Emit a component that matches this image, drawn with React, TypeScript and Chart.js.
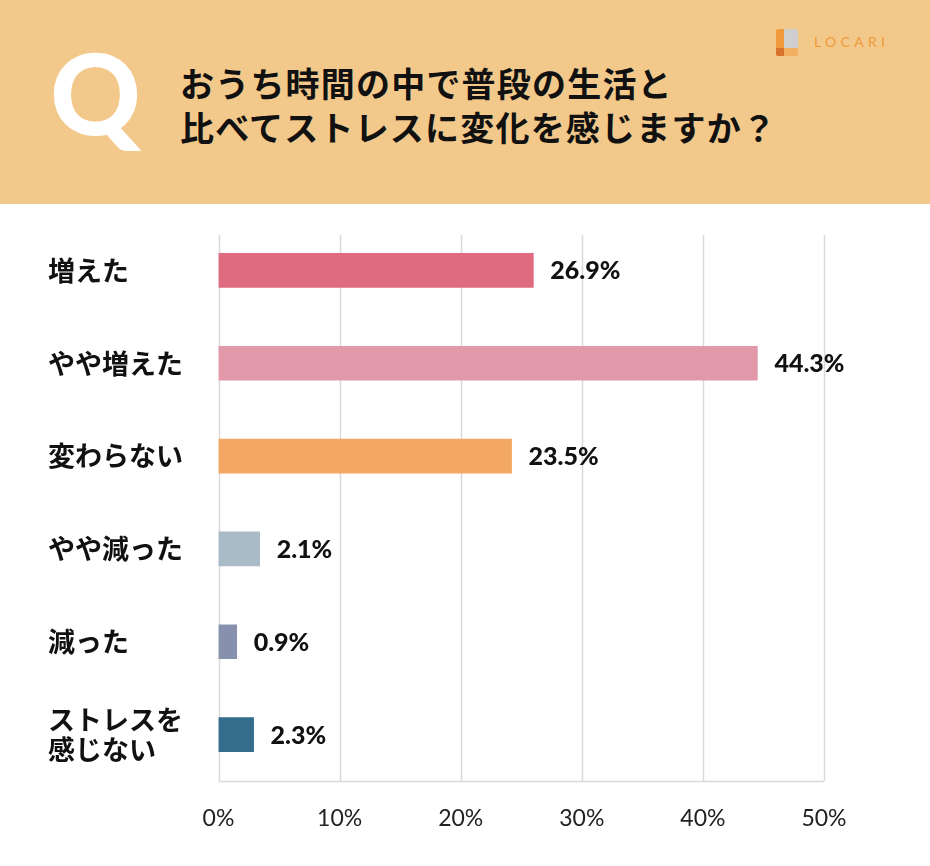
import React, { useEffect, useRef } from "react";
import { Chart, registerables } from "chart.js";
Chart.register(...registerables);

const titleLines = ["おうち時間の中で普段の生活と", "比べてストレスに変化を感じますか？"];
const categories: (string | string[])[] = [
  "増えた",
  "やや増えた",
  "変わらない",
  "やや減った",
  "減った",
  ["ストレスを", "感じない"],
];
// bar lengths as drawn in the picture (percent axis)
const barValues = [26.0, 44.5, 24.2, 3.4, 1.5, 2.9];
// value labels printed next to the bars
const valueLabels = ["26.9%", "44.3%", "23.5%", "2.1%", "0.9%", "2.3%"];
const barColors = ["#DE6B7F", "#E199AA", "#F2A862", "#AABBC8", "#8791AE", "#346D8C"];
const xMin = 0;
const xMax = 50;
const xStep = 10;

const JP = '"Noto Sans CJK JP", "Noto Sans", sans-serif';
const NUM = 'Lato, "Noto Sans", sans-serif';

export default function App() {
  const ref = useRef<HTMLCanvasElement | null>(null);

  useEffect(() => {
    document.body.style.margin = "0";
    const canvas = ref.current;
    if (!canvas) return;

    const gridPlugin = {
      id: "customGrid",
      beforeDatasetsDraw(chart: any) {
        const { ctx, chartArea } = chart;
        const x = chart.scales.x;
        ctx.save();
        ctx.strokeStyle = "#D9D9D9";
        ctx.lineWidth = 1.5;
        x.ticks.forEach((t: any) => {
          const px = Math.round(x.getPixelForValue(t.value)) + 0.5;
          ctx.beginPath();
          ctx.moveTo(px, chartArea.top + 11);
          ctx.lineTo(px, chartArea.bottom);
          ctx.stroke();
        });
        ctx.beginPath();
        ctx.moveTo(x.left, chartArea.bottom + 0.5);
        ctx.lineTo(x.right, chartArea.bottom + 0.5);
        ctx.stroke();
        ctx.restore();
      },
    };

    const labelPlugin = {
      id: "valueLabels",
      afterDatasetsDraw(chart: any) {
        const { ctx } = chart;
        const meta = chart.getDatasetMeta(0);
        ctx.save();
        ctx.fillStyle = "#111111";
        ctx.font = `900 25px ${NUM}`;
        ctx.textAlign = "left";
        ctx.textBaseline = "middle";
        meta.data.forEach((bar: any, i: number) => {
          ctx.fillText(valueLabels[i], bar.x + 17, bar.y + 1);
        });
        ctx.restore();
      },
    };

    const chart = new Chart(canvas, {
      type: "bar",
      data: {
        labels: categories as any,
        datasets: [
          {
            data: barValues,
            backgroundColor: barColors,
            borderWidth: 0,
            barThickness: 34,
          },
        ],
      },
      options: {
        indexAxis: "y",
        animation: false,
        responsive: false,
        devicePixelRatio: 1,
        layout: { padding: { top: 20, left: 48, right: 106, bottom: 0 } },
        plugins: { legend: { display: false }, tooltip: { enabled: false } },
        scales: {
          x: {
            min: xMin,
            max: xMax,
            grid: { display: false },
            border: { display: false },
            ticks: {
              stepSize: xStep,
              padding: 16,
              color: "#222222",
              font: { family: NUM, size: 23 },
              callback: (v: any) => `${v}%`,
            },
            afterFit: (s: any) => {
              s.height = 85;
            },
          },
          y: {
            grid: { display: false },
            border: { display: false },
            ticks: {
              crossAlign: "far",
              color: "#111111",
              font: { family: JP, size: 27, weight: "bold", lineHeight: 1.1 },
            },
            afterFit: (s: any) => {
              s.width = 170.5;
              s.paddingTop = 0;
              s.paddingBottom = 0;
            },
          },
        },
      },
      plugins: [gridPlugin, labelPlugin],
    });
    return () => chart.destroy();
  }, []);

  return (
    <div style={{ position: "relative", width: 930, height: 866, background: "#FFFFFF", overflow: "hidden" }}>
      <div style={{ position: "absolute", left: 0, top: 0, width: 930, height: 204, background: "#F3C98B" }} />
      <div
        style={{
          position: "absolute",
          left: 50,
          top: 32,
          fontFamily: NUM,
          fontWeight: 900,
          fontSize: 112,
          lineHeight: "120px",
          color: "#FFFFFF",
        }}
      >
        Q
      </div>
      {titleLines.map((t, i) => (
        <div
          key={i}
          style={{
            position: "absolute",
            left: 180,
            top: 61 + i * 44,
            fontFamily: JP,
            fontWeight: 700,
            fontSize: 34,
            lineHeight: "44px",
            letterSpacing: 1.2,
            color: "#111111",
            whiteSpace: "nowrap",
          }}
        >
          {t}
        </div>
      ))}
      <div style={{ position: "absolute", left: 776, top: 29, width: 22, height: 27, borderRadius: 2, overflow: "hidden" }}>
        <div style={{ position: "absolute", left: 0, top: 0, width: 8, height: 19, background: "#EE9A3A" }} />
        <div style={{ position: "absolute", left: 8, top: 0, width: 14, height: 19, background: "#CFCFCF" }} />
        <div style={{ position: "absolute", left: 0, top: 19, width: 8, height: 8, background: "#D8722C" }} />
        <div style={{ position: "absolute", left: 8, top: 19, width: 14, height: 8, background: "#F3B062" }} />
      </div>
      <div
        style={{
          position: "absolute",
          left: 814,
          top: 33,
          fontFamily: NUM,
          fontSize: 14,
          lineHeight: "18px",
          letterSpacing: 4.3,
          color: "#EE9A3A",
        }}
      >
        LOCARI
      </div>
      <canvas
        ref={ref}
        width={930}
        height={662}
        style={{ position: "absolute", left: 0, top: 204, width: 930, height: 662 }}
      />
    </div>
  );
}
